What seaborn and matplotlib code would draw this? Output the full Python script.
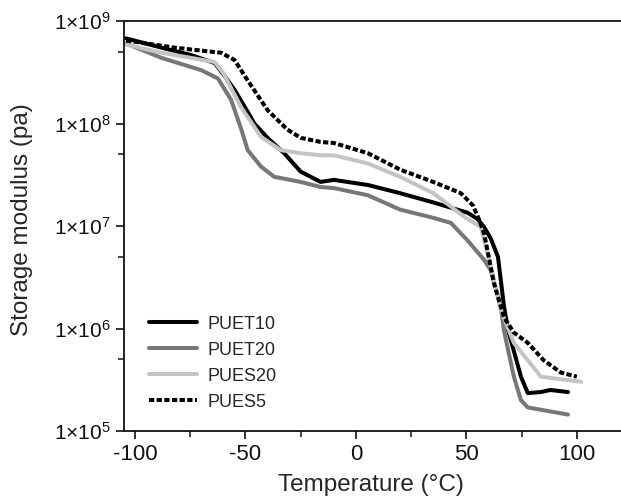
import matplotlib
matplotlib.use("Agg")
import matplotlib.pyplot as plt
import matplotlib.ticker as mticker
import numpy as np
import pandas as pd
import seaborn as sns

# ---- data: temperature (°C), log10 storage modulus (Pa)
puet10_T = [-104, -88, -75, -64, -60, -55, -50, -46, -40, -32.5, -25, -16, -10, 5.4, 20, 35, 50.5, 55, 58, 61, 64.3, 67, 68.8, 74.7, 77.8, 83.7, 88, 96]
puet10_logE = [8.83, 8.74, 8.67, 8.59, 8.48, 8.33, 8.15, 8.0, 7.86, 7.71, 7.53, 7.43, 7.45, 7.40, 7.32, 7.23, 7.13, 7.07, 6.99, 6.88, 6.70, 6.22, 5.99, 5.53, 5.37, 5.38, 5.40, 5.38]

puet20_T = [-104, -88, -70, -62.5, -56.5, -52, -49, -43, -37, -25, -16, -10, 5.4, 20, 35, 43, 50.5, 58, 61, 65.6, 67, 71.5, 74.7, 77.8, 96]
puet20_logE = [8.78, 8.64, 8.52, 8.44, 8.23, 7.95, 7.74, 7.58, 7.48, 7.43, 7.38, 7.37, 7.30, 7.16, 7.08, 7.03, 6.86, 6.67, 6.57, 6.21, 5.98, 5.53, 5.30, 5.23, 5.16]

pues20_T = [-104, -88, -64, -60, -52, -43, -34, -25, -16, -10, 5.4, 20, 35, 43, 49, 56.5, 60, 65.6, 71.5, 83.7, 102]
pues20_logE = [8.77, 8.69, 8.60, 8.49, 8.16, 7.87, 7.74, 7.71, 7.69, 7.69, 7.61, 7.48, 7.32, 7.19, 7.09, 6.99, 6.70, 6.18, 5.86, 5.53, 5.48]

pues5_T = [-104, -82, -61, -55, -49, -40, -31, -25, -16, -10, 5.4, 20, 35, 43, 47.5, 53, 56, 58, 62.5, 67, 71.5, 77.8, 85, 92.8, 100]
pues5_logE = [8.81, 8.74, 8.69, 8.62, 8.42, 8.13, 7.94, 7.86, 7.82, 7.81, 7.71, 7.55, 7.43, 7.36, 7.32, 7.20, 7.05, 6.93, 6.44, 6.11, 5.96, 5.86, 5.69, 5.57, 5.53]

series_names = ["PUET10", "PUET20", "PUES20", "PUES5"]
series_T = [puet10_T, puet20_T, pues20_T, pues5_T]
series_logE = [puet10_logE, puet20_logE, pues20_logE, pues5_logE]

x_ticks = [-100, -50, 0, 50, 100]
y_ticks = [1e5, 1e6, 1e7, 1e8, 1e9]

frames = []
for name, T, lg in zip(series_names, series_T, series_logE):
    frames.append(pd.DataFrame({"T": T, "E": 10 ** np.array(lg), "sample": name}))
df = pd.concat(frames, ignore_index=True)

sns.set_style("ticks")
plt.rcParams["font.family"] = ["Liberation Sans", "DejaVu Sans"]
plt.rcParams["mathtext.fontset"] = "custom"
plt.rcParams["mathtext.rm"] = "Liberation Sans"
plt.rcParams["mathtext.it"] = "Liberation Sans"

fig = plt.figure(figsize=(6.21, 4.99), dpi=100)
ax = fig.add_axes([124 / 621, 68 / 499, 497 / 621, 410 / 499])

colors = {"PUET10": "#000000", "PUET20": "#777777", "PUES20": "#c4c4c4", "PUES5": "#000000"}
dashes = {"PUET10": "", "PUET20": "", "PUES20": "", "PUES5": (1.3, 0.6)}

sns.lineplot(data=df, x="T", y="E", hue="sample", style="sample",
             hue_order=series_names, style_order=series_names,
             palette=colors, dashes=dashes, estimator=None, sort=False,
             linewidth=2.9, ax=ax)

ax.set_yscale("log")
ax.set_xlim(-105, 120)
ax.set_ylim(1e5, 1e9)
ax.set_xticks(x_ticks)
ax.set_xticklabels([str(v) for v in x_ticks])
ax.xaxis.set_minor_locator(mticker.FixedLocator([-75, -25, 25, 75]))
ax.set_yticks(y_ticks)
ax.set_yticklabels([r"$1{\times}10^{%d}$" % int(np.log10(v)) for v in y_ticks])
ax.yaxis.set_minor_locator(mticker.FixedLocator([5e5, 5e6, 5e7, 5e8]))
ax.yaxis.set_minor_formatter(mticker.NullFormatter())

ax.tick_params(axis="both", which="major", direction="out", length=6, width=1.2,
               labelsize=16, colors="#111111")
ax.tick_params(axis="y", which="major", labelsize=15)
ax.tick_params(axis="both", which="minor", direction="out", length=4, width=1.2)

for side in ["left", "bottom", "top"]:
    ax.spines[side].set_linewidth(1.3)
    ax.spines[side].set_color("#111111")
ax.spines["right"].set_visible(False)

ax.set_xlabel("Temperature (°C)", fontsize=17.5)
ax.set_ylabel("Storage modulus (pa)", fontsize=17.5)
ax.xaxis.set_label_coords((355 + 16 - 124) / 497 + 0.0, -(485 - 431) / 410, transform=ax.transAxes)
ax.yaxis.set_label_coords(-(124 - 22) / 497, (431 - 220) / 410, transform=ax.transAxes)
ax.xaxis.label.set_verticalalignment("center")
ax.yaxis.label.set_verticalalignment("center")

handles, labels = ax.get_legend_handles_labels()
ax.legend(handles, labels, loc="lower left", bbox_to_anchor=(0.018, 0.01),
          frameon=False, fontsize=13, handlelength=2.65, handletextpad=0.6,
          labelspacing=0.5)

fig.savefig("out.png", dpi=100)
